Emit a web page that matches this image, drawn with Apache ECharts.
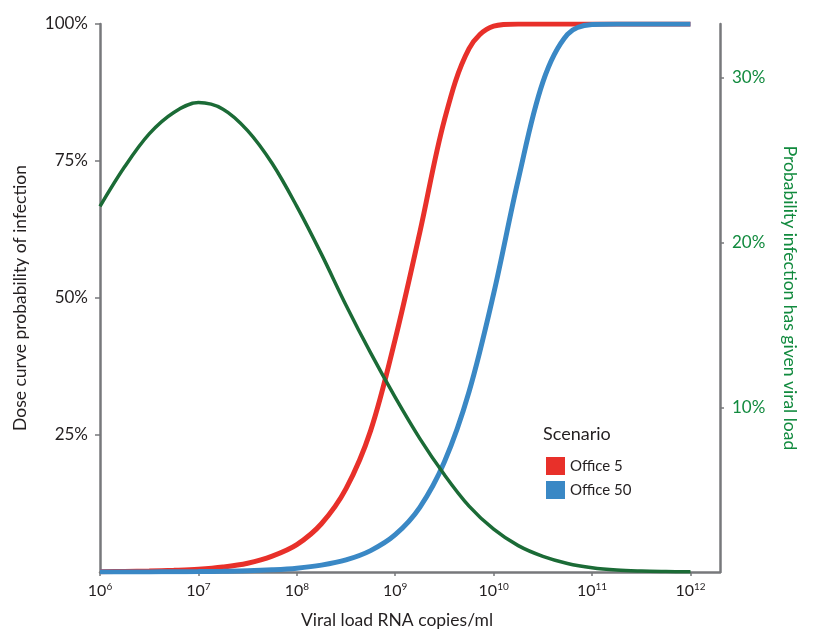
<!DOCTYPE html>
<html>
<head>
<meta charset="utf-8">
<script src="https://cdn.jsdelivr.net/npm/echarts@6/dist/echarts.min.js"></script>
<style>
  html, body { margin: 0; padding: 0; background: #fff; }
  #chart { width: 813px; height: 634px; }
</style>
</head>
<body>
<div id="chart"></div>
<script>
// log10 of viral load (copies/ml)
var logLoad = [6, 6.25, 6.5, 6.75, 7, 7.25, 7.5, 7.75, 8, 8.25, 8.5, 8.75, 9,
               9.25, 9.5, 9.75, 10, 10.25, 10.5, 10.75, 11, 11.25, 11.5, 11.75, 12];
// dose curve probability of infection, %
var office5 = [0.05, 0.1, 0.17, 0.3, 0.5, 0.9, 1.6, 2.9, 5.0, 8.8, 15.2, 25.8, 42.5,
               62, 82.5, 95.5, 99.6, 100, 100, 100, 100, 100, 100, 100, 100];
var office50 = [0.01, 0.01, 0.02, 0.04, 0.07, 0.13, 0.22, 0.4, 0.7, 1.25, 2.2, 3.9, 6.8,
                11.8, 20.1, 32.9, 50.8, 71.6, 89.4, 98.1, 99.9, 100, 100, 100, 100];
// probability infection has given viral load, %
var viralLoadDist = [22.2, 24.6, 26.6, 27.9, 28.5, 28.1, 26.8, 24.8, 22.2, 19.3, 16.2, 13.3, 10.6,
                     8.1, 5.9, 4.0, 2.6, 1.6, 0.95, 0.52, 0.26, 0.12, 0.06, 0.03, 0.01];

var xTicks = [6, 7, 8, 9, 10, 11, 12];
var leftTicks = [25, 50, 75, 100];
var rightTicks = [10, 20, 30];

function pairs(vals) {
  return logLoad.map(function (x, i) { return [x, vals[i]]; });
}

var axisGrey = '#77787b';
var textDark = '#231f20';
var green = '#1b6b36';
var greenText = '#118a3e';
var font = 'Lato';

var chart = echarts.init(document.getElementById('chart'));

chart.setOption({
  animation: false,
  textStyle: { fontFamily: font },
  grid: { left: 100, right: 93, top: 24, bottom: 61 },
  title: {
    text: 'Scenario',
    left: 538,
    top: 420,
    textStyle: { fontFamily: font, fontSize: 18, fontWeight: 'normal', color: textDark }
  },
  legend: {
    data: ['Office 5', 'Office 50'],
    orient: 'vertical',
    left: 541,
    top: 452,
    icon: 'rect',
    itemWidth: 19,
    itemHeight: 18,
    itemGap: 6,
    textStyle: { fontFamily: font, fontSize: 15, color: textDark }
  },
  xAxis: {
    type: 'value',
    min: 6,
    max: 12.3,
    interval: 1,
    name: 'Viral load RNA copies/ml',
    nameLocation: 'middle',
    nameGap: 39,
    nameTextStyle: { fontFamily: font, fontSize: 17.5, color: textDark, padding: [0, 26, 0, 0] },
    axisLine: { lineStyle: { color: axisGrey, width: 2.5 } },
    axisTick: { show: true, customValues: xTicks, length: 4, lineStyle: { color: axisGrey, width: 1.5 } },
    splitLine: { show: false },
    axisLabel: {
      customValues: xTicks,
      margin: 10,
      formatter: function (v) { return '{b|10}{s|' + v + '}'; },
      rich: {
        b: { fontFamily: font, fontSize: 16, color: textDark },
        s: { fontFamily: font, fontSize: 10, color: textDark, padding: [0, 0, 8, 0] }
      }
    }
  },
  yAxis: [
    {
      type: 'value',
      min: 0,
      max: 100,
      interval: 25,
      name: 'Dose curve probability of infection',
      nameLocation: 'middle',
      nameGap: 71,
      nameTextStyle: { fontFamily: font, fontSize: 17.5, color: textDark },
      axisLine: { show: true, lineStyle: { color: axisGrey, width: 2.5 } },
      axisTick: { show: true, customValues: leftTicks, length: 5, lineStyle: { color: axisGrey, width: 1.5 } },
      splitLine: { show: false },
      axisLabel: {
        customValues: leftTicks,
        margin: 12,
        fontSize: 17,
        color: textDark,
        formatter: '{value}%'
      }
    },
    {
      type: 'value',
      position: 'right',
      min: 0,
      max: 33.27,
      interval: 10,
      name: 'Probability infection has given viral load',
      nameLocation: 'middle',
      nameRotate: -90,
      nameGap: 61,
      nameTextStyle: { fontFamily: font, fontSize: 17.5, color: greenText },
      axisLine: { show: true, lineStyle: { color: axisGrey, width: 2.5 } },
      axisTick: { show: true, customValues: rightTicks, length: 4, lineStyle: { color: axisGrey, width: 1.5 } },
      splitLine: { show: false },
      axisLabel: {
        customValues: rightTicks,
        margin: 12,
        fontSize: 17,
        color: greenText,
        formatter: '{value}%'
      }
    }
  ],
  series: [
    {
      name: 'Office 5',
      type: 'line',
      yAxisIndex: 0,
      data: pairs(office5),
      smooth: 0.35,
      symbol: 'none',
      color: '#e8302a',
      lineStyle: { width: 5, color: '#e8302a' },
      z: 3
    },
    {
      name: 'Office 50',
      type: 'line',
      yAxisIndex: 0,
      data: pairs(office50),
      smooth: 0.35,
      symbol: 'none',
      color: '#3a88c5',
      lineStyle: { width: 5, color: '#3a88c5' },
      z: 4
    },
    {
      name: 'Viral load distribution',
      type: 'line',
      yAxisIndex: 1,
      data: pairs(viralLoadDist),
      smooth: 0.35,
      symbol: 'none',
      color: green,
      lineStyle: { width: 3.5, color: green },
      z: 5
    }
  ]
});
</script>
</body>
</html>
